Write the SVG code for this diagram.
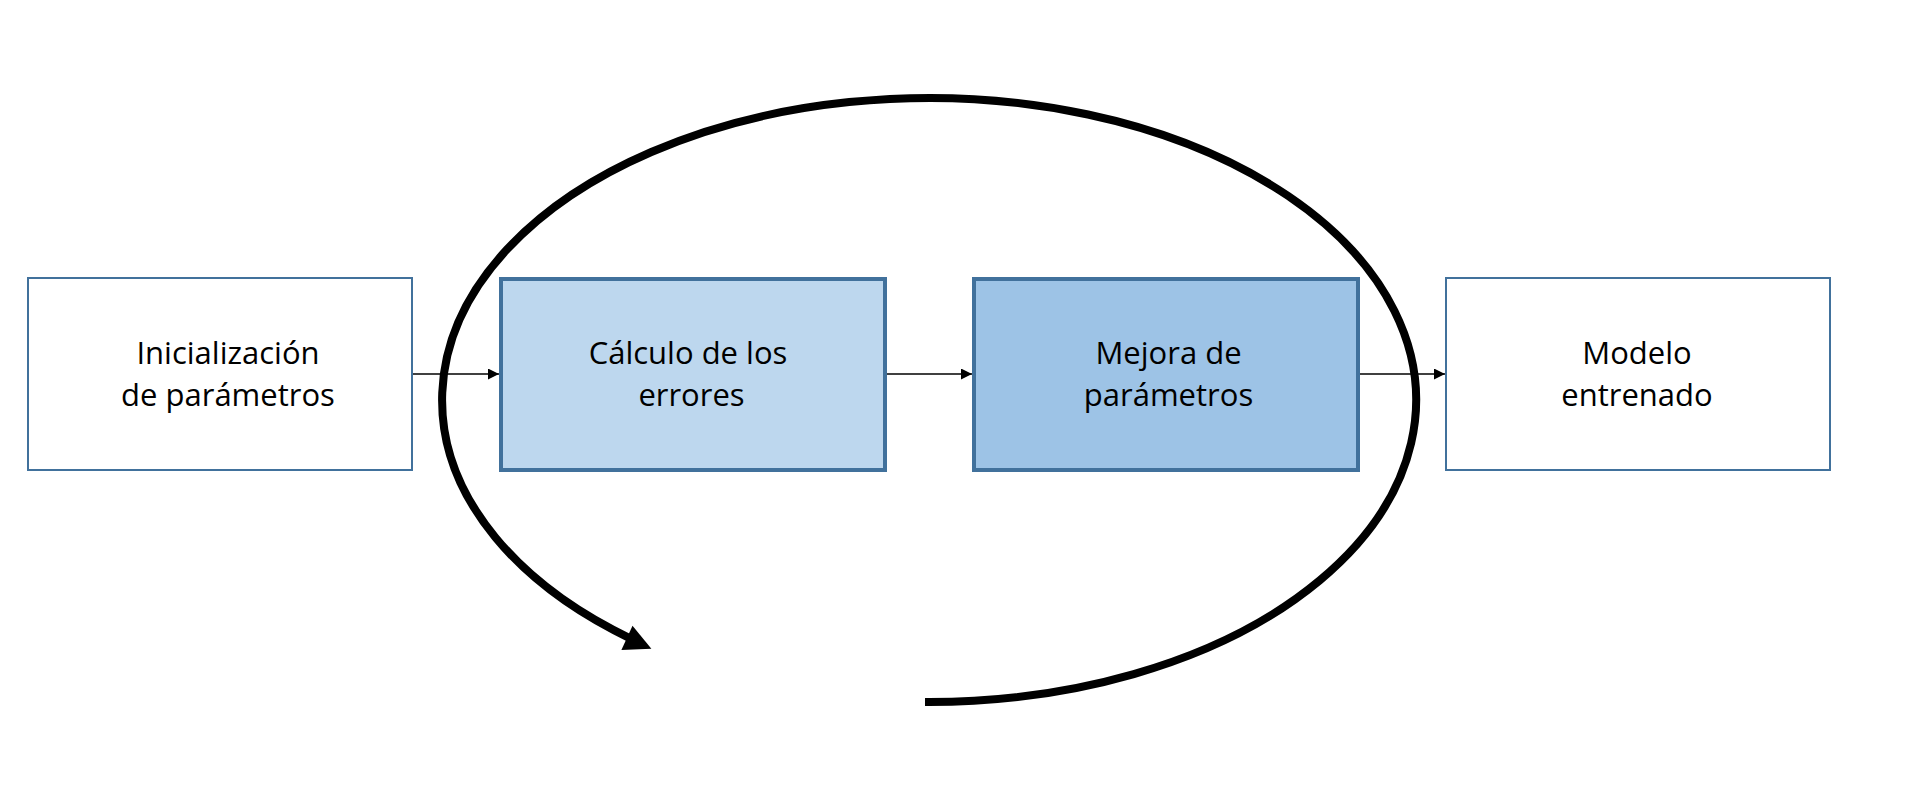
<svg xmlns="http://www.w3.org/2000/svg" width="1920" height="792" viewBox="0 0 1920 792">
<style>
.box{stroke:#41719C;}
.thin{stroke-width:2;fill:#FFFFFF;}
.thick{stroke-width:4;}
.lbl{font-family:"Open Sans","Liberation Sans",sans-serif;font-size:31px;fill:#000000;text-anchor:middle;}
.conn{stroke:#000000;stroke-width:1.5;fill:none;}
</style>
<defs>
<marker id="ah" viewBox="0 0 11 11" refX="11" refY="5.5" markerWidth="11" markerHeight="11" markerUnits="userSpaceOnUse" orient="auto">
<path d="M0,0 L11,5.5 L0,11 Z" fill="#000000"/>
</marker>
</defs>
<rect width="1920" height="792" fill="#FFFFFF"/>
<g id="loop">
<path d="M 925 702 A 487 302 0 1 0 632 639.3" fill="none" stroke="#000000" stroke-width="8"/>
<polygon points="632.5,625.7 621.4,650 651.4,648.7" fill="#000000"/>
</g>
<g id="connectors">
<line class="conn" x1="412" y1="374" x2="499" y2="374" marker-end="url(#ah)"/>
<line class="conn" x1="887" y1="374" x2="972" y2="374" marker-end="url(#ah)"/>
<line class="conn" x1="1360" y1="374" x2="1445" y2="374" marker-end="url(#ah)"/>
</g>
<g id="node-inicializacion">
<rect class="box thin" x="28" y="278" width="384" height="192"/>
<text class="lbl" x="228" y="364">Inicialización</text>
<text class="lbl" x="228" y="406">de parámetros</text>
</g>
<g id="node-calculo">
<rect class="box thick" x="501" y="279" width="384" height="191" fill="#BDD7EE"/>
<text class="lbl" x="688" y="364">Cálculo de los</text>
<text class="lbl" x="691.5" y="406">errores</text>
</g>
<g id="node-mejora">
<rect class="box thick" x="974" y="279" width="384" height="191" fill="#9DC3E6"/>
<text class="lbl" x="1168.5" y="364">Mejora de</text>
<text class="lbl" x="1168.5" y="406">parámetros</text>
</g>
<g id="node-modelo">
<rect class="box thin" x="1446" y="278" width="384" height="192"/>
<text class="lbl" x="1637" y="364">Modelo</text>
<text class="lbl" x="1637" y="406">entrenado</text>
</g>
</svg>
